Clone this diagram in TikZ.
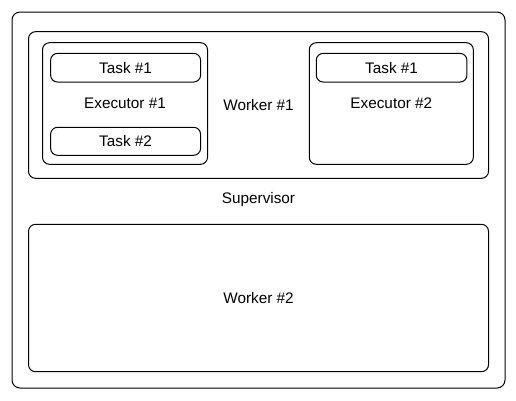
\documentclass[tikz,border=0pt]{standalone}
\usepackage{fontspec}
\setmainfont{Liberation Sans}
\begin{document}
\begin{tikzpicture}[x=1pt,y=-1pt,
  box/.style={draw=black,line width=1pt,rounded corners=7pt,inner sep=0pt,
    font=\fontsize{15.3}{18}\selectfont,text=black},
  bigbox/.style={box,rounded corners=8pt}]
\useasboundingbox (0,0) rectangle (516,400);
\node[bigbox,minimum width=493pt,minimum height=376pt] (sup) at (258.5,200) {Supervisor};
\node[box,minimum width=460pt,minimum height=146.6pt] (w1) at (258.5,105) {Worker \#1};
\node[box,minimum width=165pt,minimum height=121.6pt] (e1) at (125,103.5) {Executor \#1};
\node[box,minimum width=150pt,minimum height=28.7pt] (t1) at (125.6,67.7) {Task \#1};
\node[box,minimum width=150pt,minimum height=28pt] (t2) at (125.6,141.3) {Task \#2};
\node[box,minimum width=164pt,minimum height=121.6pt] (e2) at (391.3,103.5) {Executor \#2};
\node[box,minimum width=150.7pt,minimum height=28.7pt] (t3) at (391.6,67.7) {Task \#1};
\node[box,minimum width=460pt,minimum height=147.4pt] (w2) at (258.5,298) {Worker \#2};
\end{tikzpicture}
\end{document}
